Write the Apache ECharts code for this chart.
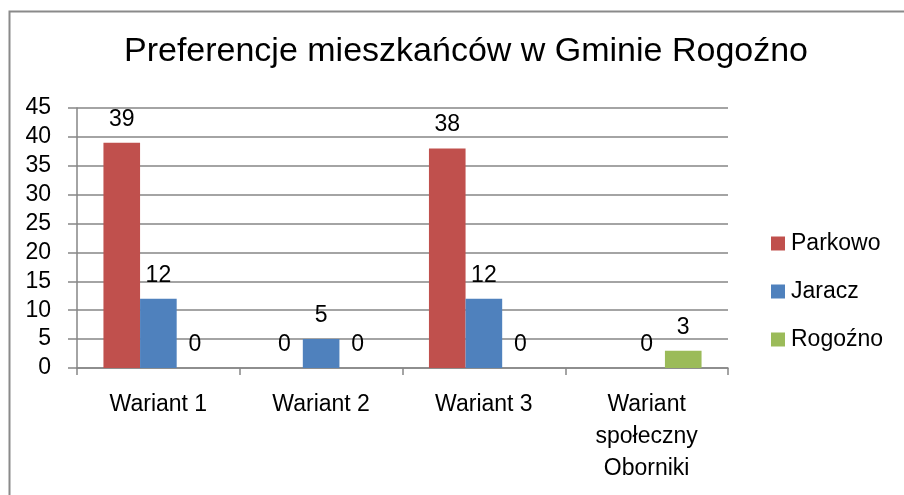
<!DOCTYPE html>
<html>
<head>
<meta charset="utf-8">
<script src="https://cdn.jsdelivr.net/npm/echarts@6/dist/echarts.min.js"></script>
<style>html,body{margin:0;padding:0;background:#fff}#c{width:904px;height:495px}</style>
</head>
<body>
<div id="c"></div>
<script>
const titleText = 'Preferencje mieszkańców w Gminie Rogoźno';
const categories = ['Wariant 1', 'Wariant 2', 'Wariant 3', 'Wariant\nspołeczny\nOborniki'];
const seriesNames = ['Parkowo', 'Jaracz', 'Rogoźno'];
const parkowo = [39, 0, 38, null];
const jaracz = [12, 5, 12, 0];
const rogozno = [0, 0, 0, 3];
const yTicks = [0, 5, 10, 15, 20, 25, 30, 35, 40, 45];

const FONT = '"Liberation Sans", Arial, sans-serif';
const colors = ['#C0504D', '#4F81BD', '#9BBB59'];
const values = [parkowo, jaracz, rogozno];

const chart = echarts.init(document.getElementById('c'), null, {renderer: 'canvas'});
chart.setOption({
  animation: false,
  color: colors,
  textStyle: {fontFamily: FONT},
  title: {
    text: titleText,
    left: 461, top: 30, textAlign: 'center',
    textStyle: {fontFamily: FONT, fontSize: 34, fontWeight: 'normal', color: '#000'}
  },
  graphic: [{
    type: 'rect', left: 7, top: 9, silent: true,
    shape: {width: 1000, height: 1000},
    style: {fill: 'none', stroke: '#8a8a8a', lineWidth: 2}
  }],
  legend: {
    orient: 'vertical', left: 766, top: 227,
    itemWidth: 14, itemHeight: 14, itemGap: 25,
    icon: 'rect',
    textStyle: {fontFamily: FONT, fontSize: 23, color: '#000', padding: [0, 0, 0, 1]},
    data: seriesNames
  },
  grid: {left: 77, right: 176, top: 108, bottom: 127, containLabel: false},
  xAxis: {
    type: 'category', data: categories,
    axisLine: {lineStyle: {color: '#868686', width: 1.5}},
    axisTick: {show: true, length: 7, lineStyle: {color: '#868686', width: 1.5}},
    axisLabel: {fontFamily: FONT, fontSize: 23, color: '#000', margin: 21, lineHeight: 32, interval: 0}
  },
  yAxis: {
    type: 'value', min: yTicks[0], max: yTicks[yTicks.length - 1], interval: yTicks[1] - yTicks[0],
    axisLine: {show: true, lineStyle: {color: '#868686', width: 1.5}},
    axisTick: {show: true, length: 9, lineStyle: {color: '#868686', width: 1.5}},
    splitLine: {lineStyle: {color: '#868686', width: 1.5}},
    axisLabel: {fontFamily: FONT, fontSize: 23, color: '#000', margin: 26}
  },
  series: seriesNames.map((n, i) => ({
    name: n, type: 'bar', data: values[i],
    barGap: '0%', barCategoryGap: '32.5%',
    itemStyle: {color: colors[i]},
    label: {show: true, position: 'top', distance: 12, fontFamily: FONT, fontSize: 23, color: '#000'}
  }))
});
</script>
</body>
</html>
